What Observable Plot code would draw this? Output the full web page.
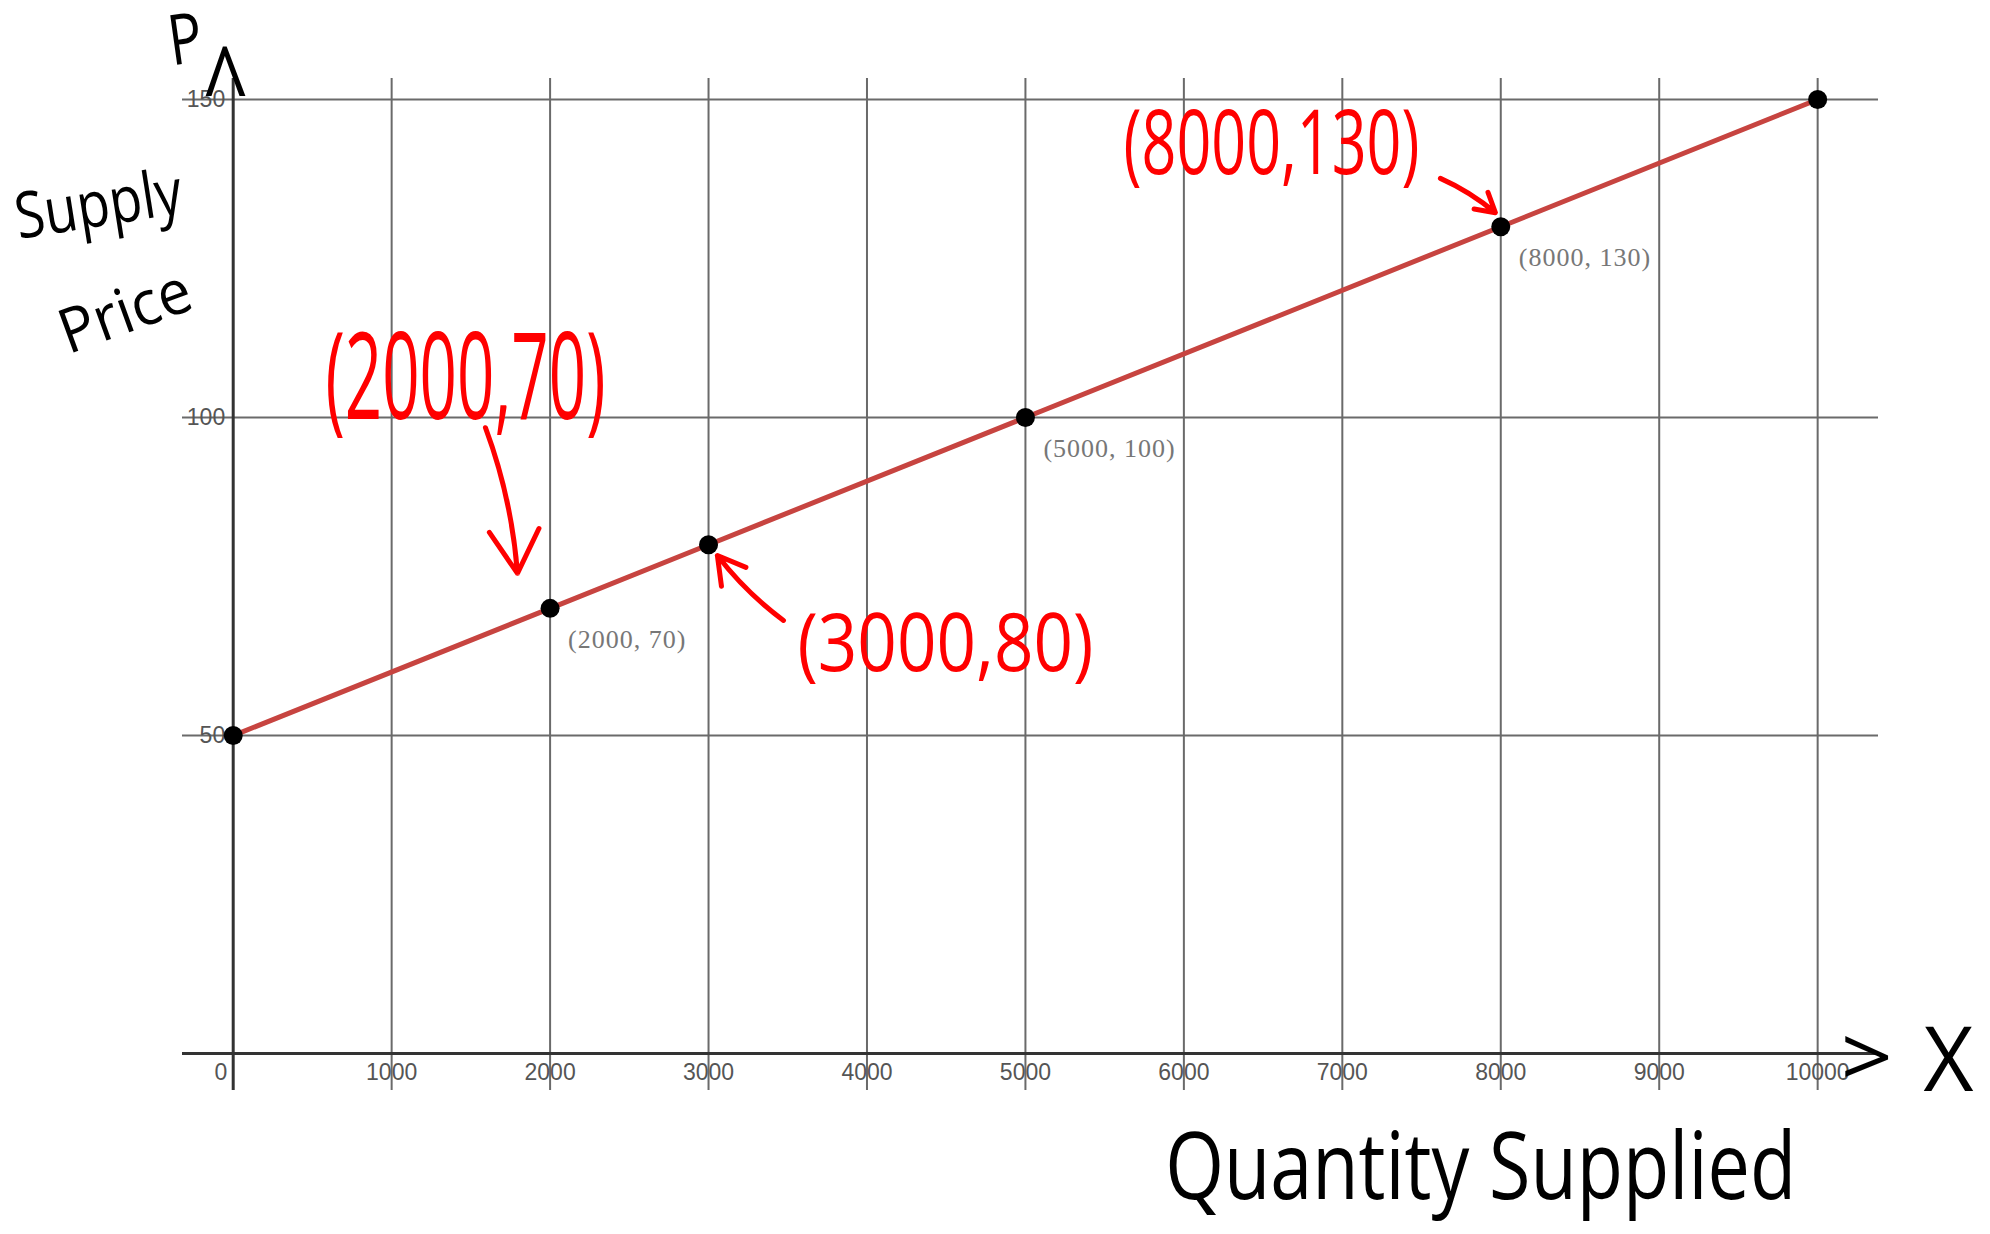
<!DOCTYPE html>
<html><head><meta charset="utf-8">
<script src="https://cdn.jsdelivr.net/npm/d3@7"></script>
<script src="https://cdn.jsdelivr.net/npm/@observablehq/plot@0.6"></script>
<style>html,body{margin:0;padding:0;background:#fff}svg{display:block}</style>
</head><body><div id="chart"></div>
<script>
// ---- data ----
const quantities = [0, 2000, 3000, 5000, 8000, 10000];
const prices = [50, 70, 80, 100, 130, 150];
const labelledQuantities = [2000, 5000, 8000];
const labelledPrices = [70, 100, 130];
const xTickValues = [0, 1000, 2000, 3000, 4000, 5000, 6000, 7000, 8000, 9000, 10000];
const yTickValues = [50, 100, 150];
const xGridValues = [1000, 2000, 3000, 4000, 5000, 6000, 7000, 8000, 9000, 10000];
const yGridValues = [50, 100, 150];

// handwritten annotations (anchors in data units)
const redNoteText = ["(2000,70)", "(3000,80)", "(8000,130)"];
const redNoteX = [1466, 4495, 6553];
const redNoteY = [105.8, 64.2, 142.8];
const redArrowX1 = [1592, 3473, 7619];
const redArrowY1 = [98.4, 68.1, 137.6];
const redArrowX2 = [1794, 3056, 7966];
const redArrowY2 = [75.5, 78.3, 132.2];
const blackNoteText = ["P", "^", "Supply", "Price", "Quantity Supplied", ">", "X"];
const blackNoteX = [-301, -49, -850, -680, 7873, 10310, 10826];
const blackNoteY = [159.2, 151.4, 133.3, 116.5, -18.2, -1.1, -1.4];

// ---- styling (not data) ----
const redStyle = [
  {size: 120, width: 280},
  {size: 80, width: 296},
  {size: 90, width: 296}
];
const blackStyle = [
  {size: 70, width: 34, rotate: -8},
  {size: 110, width: 46, rotate: 0},
  {size: 64, width: 168, rotate: -9},
  {size: 62, width: 136, rotate: -20},
  {size: 94, width: 631, rotate: 0},
  {size: 84, width: 52, rotate: 0},
  {size: 90, width: 50, rotate: 0}
];

const points = quantities.map((q, i) => ({q, p: prices[i]}));
const labelled = labelledQuantities.map((q, i) => ({q, p: labelledPrices[i]}));
const redArrows = redArrowX1.map((x1, i) => ({x1, y1: redArrowY1[i], x2: redArrowX2[i], y2: redArrowY2[i]}));

const hand = "'Open Sans', 'Noto Sans', sans-serif";
const noteMarks = [];
redNoteText.forEach((t, i) => {
  noteMarks.push(Plot.text([{t, x: redNoteX[i], y: redNoteY[i]}], {
    x: "x", y: "y", text: "t", fill: "#ff0000", fontSize: redStyle[i].size,
    fontFamily: hand, textAnchor: "middle", lineAnchor: "middle", ariaDescription: "rnote" + i
  }));
});
blackNoteText.forEach((t, i) => {
  noteMarks.push(Plot.text([{t, x: blackNoteX[i], y: blackNoteY[i]}], {
    x: "x", y: "y", text: "t", fill: "#000", fontSize: blackStyle[i].size,
    rotate: blackStyle[i].rotate, fontFamily: hand, textAnchor: "middle",
    lineAnchor: "middle", ariaDescription: "bnote" + i
  }));
});

const tickFont = "'Liberation Sans', Arial, sans-serif";
const chart = Plot.plot({
  width: 1990, height: 1234,
  marginLeft: 182, marginRight: 112, marginTop: 78, marginBottom: 144,
  x: {domain: [-320, 10384], axis: null},
  y: {domain: [-5.8, 153.3], axis: null},
  style: {background: "#fff", overflow: "visible"},
  marks: [
    Plot.ruleX(xGridValues, {stroke: "#6a6a6a", strokeWidth: 2, strokeOpacity: 1}),
    Plot.ruleY(yGridValues, {stroke: "#6a6a6a", strokeWidth: 2, strokeOpacity: 1}),
    Plot.ruleX([0], {stroke: "#333", strokeWidth: 3}),
    Plot.ruleY([0], {stroke: "#333", strokeWidth: 3}),
    Plot.text(xTickValues.filter(d => d !== 0), {x: d => d, y: 0, dy: 19, text: d => String(d),
      fontSize: 23, fontFamily: tickFont, fill: "#555", lineAnchor: "middle"}),
    Plot.text(xTickValues.filter(d => d === 0), {x: d => d, y: 0, dx: -6, dy: 19, text: d => String(d),
      fontSize: 23, fontFamily: tickFont, fill: "#555", textAnchor: "end", lineAnchor: "middle"}),
    Plot.text(yTickValues, {x: 0, y: d => d, dx: -8, text: d => String(d),
      fontSize: 23, fontFamily: tickFont, fill: "#555", textAnchor: "end", lineAnchor: "middle"}),
    Plot.line(points, {x: "q", y: "p", stroke: "#c74440", strokeWidth: 5}),
    Plot.dot(points, {x: "q", y: "p", r: 9.5, fill: "#000"}),
    Plot.text(labelled, {x: "q", y: "p", dx: 18, dy: 31, text: d => `(${d.q}, ${d.p})`,
      fontSize: 26, fontFamily: "'Liberation Serif', 'DejaVu Serif', serif", fill: "#777",
      textAnchor: "start", lineAnchor: "middle", ariaDescription: "ptlabel"}),
    Plot.arrow(redArrows, {x1: "x1", y1: "y1", x2: "x2", y2: "y2", stroke: "#ff0000",
      strokeWidth: 5, headLength: 28, bend: 8, insetStart: 0, insetEnd: 0}),
    ...noteMarks
  ]
});
document.getElementById("chart").appendChild(chart);

// compress handwritten notes to their drawn widths
function fit(desc, width) {
  const el = chart.querySelector(`g[aria-description="${desc}"] text`);
  if (el) { el.setAttribute("textLength", width); el.setAttribute("lengthAdjust", "spacingAndGlyphs"); }
}
redStyle.forEach((s, i) => fit("rnote" + i, s.width));
blackStyle.forEach((s, i) => fit("bnote" + i, s.width));
chart.querySelectorAll('g[aria-description="ptlabel"] text').forEach(t => t.setAttribute("letter-spacing", "1"));
</script>
</body></html>
